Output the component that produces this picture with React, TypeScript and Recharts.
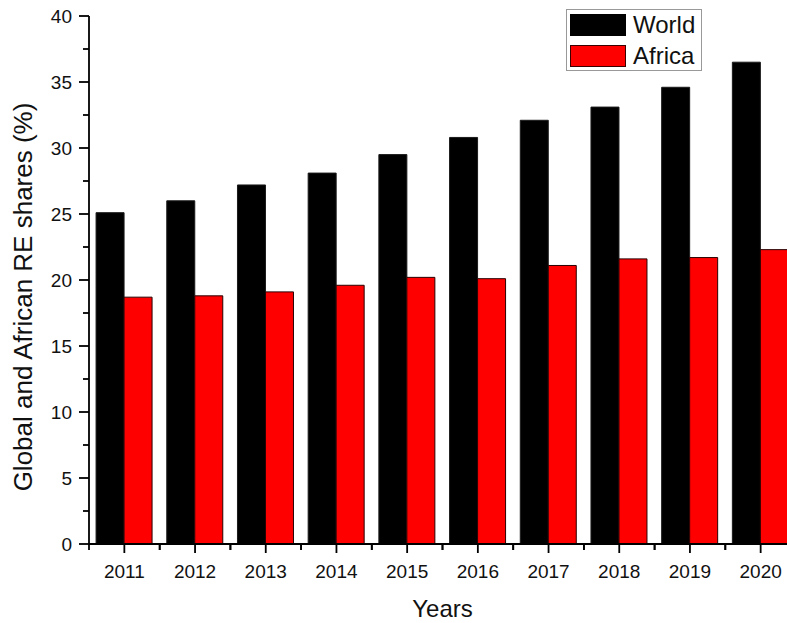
import React from 'react';
import { BarChart, Bar, XAxis, YAxis, Legend } from 'recharts';

// Renewable energy share of final energy use, world vs Africa
const years = ['2011', '2012', '2013', '2014', '2015', '2016', '2017', '2018', '2019', '2020'];
const worldShare = [25.1, 26.0, 27.2, 28.1, 29.5, 30.8, 32.1, 33.1, 34.6, 36.5];
const africaShare = [18.7, 18.8, 19.1, 19.6, 20.2, 20.1, 21.1, 21.6, 21.7, 22.3];

const majorTicks = [0, 5, 10, 15, 20, 25, 30, 35, 40];
const minorTicks = [2.5, 7.5, 12.5, 17.5, 22.5, 27.5, 32.5, 37.5];

const chartData = years.map((year, i) => ({
  year,
  World: worldShare[i],
  Africa: africaShare[i],
}));

const FONT = '"Liberation Sans", Arial, Helvetica, sans-serif';
const INK = '#111';

const YTick = (props: any) => {
  const { x, y, payload } = props;
  const isMajor = majorTicks.includes(payload.value);
  return (
    <g>
      <line x1={x - (isMajor ? 10 : 6)} x2={x} y1={y} y2={y} stroke="#000" strokeWidth={1.8} />
      {isMajor && (
        <text x={x - 17} y={y} dy="0.355em" textAnchor="end" fontSize={19} fontFamily={FONT} fill={INK}>
          {payload.value}
        </text>
      )}
    </g>
  );
};

const XTick = (props: any) => {
  const { x, y, payload, width } = props;
  const half = payload.offset || (width ? width / years.length / 2 : 35);
  return (
    <g>
      <line x1={x} x2={x} y1={y} y2={y + 9} stroke="#000" strokeWidth={1.8} />
      <line x1={x - half} x2={x - half} y1={y} y2={y + 6} stroke="#000" strokeWidth={1.8} />
      <line x1={x + half} x2={x + half} y1={y} y2={y + 6} stroke="#000" strokeWidth={1.8} />
      <text x={x} y={y + 33.5} textAnchor="middle" fontSize={19} fontFamily={FONT} fill={INK}>
        {payload.value}
      </text>
    </g>
  );
};

const YLabel = (props: any) => {
  const { viewBox } = props;
  const cx = viewBox.x + 32;
  const cy = viewBox.y + viewBox.height / 2 + 17;
  return (
    <text
      x={0}
      y={0}
      transform={`translate(${cx}, ${cy}) rotate(-90)`}
      textAnchor="middle"
      fontSize={26}
      fontFamily={FONT}
      fill={INK}
    >
      Global and African RE shares (%)
    </text>
  );
};

const XLabel = (props: any) => {
  const { viewBox } = props;
  return (
    <text
      x={viewBox.x + viewBox.width / 2}
      y={viewBox.y + viewBox.height - 6}
      textAnchor="middle"
      fontSize={24}
      fontFamily={FONT}
      fill={INK}
    >
      Years
    </text>
  );
};

const legendItems = [
  { name: 'World', color: '#000000', border: '#000' },
  { name: 'Africa', color: '#ff0000', border: '#3a0000' },
];

const LegendBox = () => (
  <div
    style={{
      border: '1px solid #999',
      background: '#fff',
      padding: '4px 6px 3px 3px',
      fontFamily: FONT,
      fontSize: 24,
      color: INK,
      lineHeight: '22px',
    }}
  >
    {legendItems.map((item, i) => (
      <div key={item.name} style={{ display: 'flex', alignItems: 'center', marginTop: i === 0 ? 0 : 9 }}>
        <span
          style={{
            display: 'inline-block',
            width: 54,
            height: 20,
            background: item.color,
            border: `1px solid ${item.border}`,
            marginRight: 7,
          }}
        />
        <span>{item.name}</span>
      </div>
    ))}
  </div>
);

export default function App() {
  return (
    <div style={{ position: 'absolute', left: 0, top: 0, width: 787, height: 623, overflow: 'hidden', background: '#fff' }}>
      <BarChart
        width={800}
        height={623}
        data={chartData}
        margin={{ top: 16, right: 4, left: 0, bottom: 0 }}
        barCategoryGap="10%"
        barGap={0}
      >
        <XAxis
          dataKey="year"
          height={79}
          interval={0}
          tickSize={0}
          tickMargin={0}
          tickLine={false}
          axisLine={{ stroke: '#000', strokeWidth: 1.8 }}
          tick={<XTick />}
          label={<XLabel />}
        />
        <YAxis
          width={89}
          domain={[0, 40]}
          ticks={[...minorTicks, ...majorTicks].sort((a, b) => a - b)}
          interval={0}
          tickSize={0}
          tickMargin={0}
          tickLine={false}
          axisLine={{ stroke: '#000', strokeWidth: 1.8 }}
          tick={<YTick />}
          label={<YLabel />}
        />
        {/* horizontal + middle + center keeps the legend from shrinking the plot */}
        <Legend
          layout="horizontal"
          verticalAlign="middle"
          align="center"
          content={<LegendBox />}
          wrapperStyle={{ position: 'absolute', left: 566, top: 9, width: 'auto', height: 'auto' }}
        />
        <Bar dataKey="World" fill="#000000" stroke="#1a1a1a" strokeWidth={1} isAnimationActive={false} />
        <Bar dataKey="Africa" fill="#ff0000" stroke="#2a0000" strokeWidth={1} isAnimationActive={false} />
      </BarChart>
    </div>
  );
}
